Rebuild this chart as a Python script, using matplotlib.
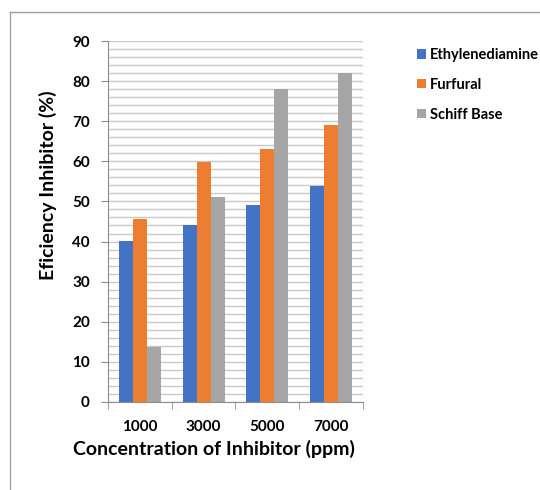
import numpy as np
import matplotlib
matplotlib.use('Agg')
import matplotlib.pyplot as plt

# dados
concentrations = ['1000', '3000', '5000', '7000']
ethylenediamine = [40.2, 44.0, 49.0, 53.8]
furfural = [45.6, 59.8, 63.0, 69.0]
schiff_base = [13.6, 51.0, 78.0, 82.0]

series_names = ['Ethylenediamine', 'Furfural', 'Schiff Base']
colors = ['#4472C4', '#ED7D31', '#A5A5A5']

plt.rcParams['font.family'] = ['Lato', 'DejaVu Sans']
plt.rcParams['font.weight'] = 'bold'

fig = plt.figure(figsize=(5.4, 4.9), dpi=100)
ax = fig.add_axes([0.2, 0.18, 0.472, 0.736])

x = np.arange(len(concentrations))
width = 0.22
series = [ethylenediamine, furfural, schiff_base]
for i, (vals, name, c) in enumerate(zip(series, series_names, colors)):
    ax.bar(x + (i - 1) * width, vals, width, color=c, label=name, zorder=3)

ax.set_xlim(-0.5, len(concentrations) - 0.5)
ax.set_ylim(0, 90)
ax.set_yticks(np.arange(0, 91, 10))
ax.set_yticks(np.arange(0, 91, 2), minor=True)
ax.grid(True, which='both', axis='y', color='#c8c8c8', linewidth=1.0, zorder=0)

ax.set_xticks(x)
ax.set_xticklabels(concentrations, fontsize=11, fontweight='bold')
ax.set_xticks(np.arange(-0.5, len(concentrations), 1), minor=True)
ax.tick_params(axis='x', which='major', length=0, pad=13)
ax.tick_params(axis='x', which='minor', length=5, color='#8c8c8c')
ax.tick_params(axis='y', which='major', length=5, color='#8c8c8c', labelsize=11, pad=8)
ax.tick_params(axis='y', which='minor', length=0)
for lbl in ax.get_yticklabels():
    lbl.set_fontweight('bold')

for s in ['top', 'right']:
    ax.spines[s].set_visible(False)
for s in ['left', 'bottom']:
    ax.spines[s].set_color('#8c8c8c')

ax.set_xlabel('Concentration of Inhibitor (ppm)', fontsize=14, fontweight='bold')
ax.xaxis.set_label_coords(0.414, -0.105)
ax.set_ylabel('Eficiency Inhibitor (%)', fontsize=14, fontweight='bold')
ax.yaxis.set_label_coords(-0.20, 0.60)

fig.legend(loc='upper left', bbox_to_anchor=(0.772, 0.902), frameon=False,
           prop={'size': 10.5, 'weight': 'bold'}, handlelength=0.6, handleheight=0.6,
           handletextpad=0.3, labelspacing=1.08, borderaxespad=0, borderpad=0)

# moldura do gráfico
fig.add_artist(plt.Line2D([10 / 540, 1], [1 - 12 / 490, 1 - 12 / 490], color='#a0a0a0', lw=1))
fig.add_artist(plt.Line2D([10 / 540, 10 / 540], [0, 1 - 12 / 490], color='#a0a0a0', lw=1))

fig.savefig('out.png', dpi=100)
